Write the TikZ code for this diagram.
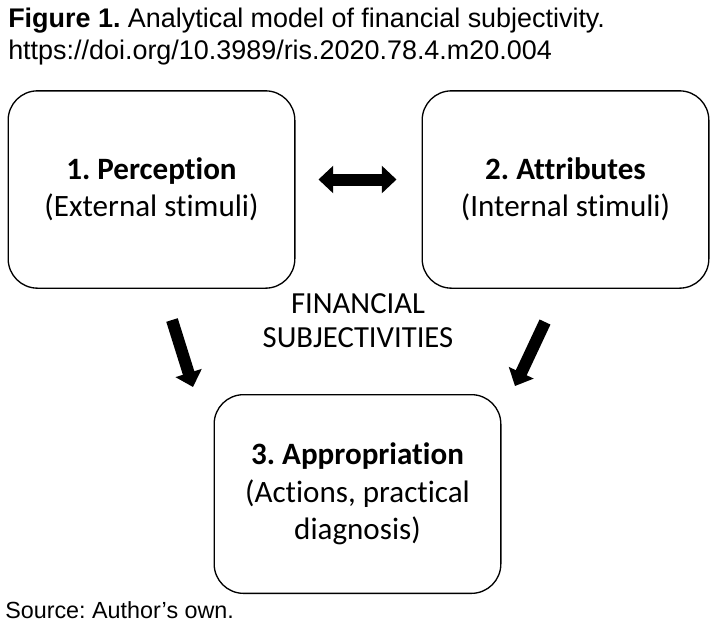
\documentclass[tikz,border=0pt]{standalone}
\usepackage{fontspec}
\setmainfont{Carlito}[Ligatures=NoCommon]
\newfontfamily\arialfont{Liberation Sans}
\usetikzlibrary{arrows.meta,positioning}
\frenchspacing

\tikzset{
  box/.style={draw, line width=1pt, rounded corners=22pt, minimum width=215pt,
    minimum height=148pt, align=center, inner sep=0pt,
    font=\fontsize{23.3}{28}\selectfont,
    execute at begin node={\rule{0pt}{#1}}},
  box/.default=19pt,
  fatarrow/.style={line width=9pt, -{Triangle[length=11pt,width=20pt]}},
  dblarrow/.style={line width=9pt,
    {Triangle[length=11pt,width=20pt]}-{Triangle[length=11pt,width=20pt]}},
  capt/.style={inner sep=0pt, align=left, font=\arialfont\fontsize{20.2}{23.5}\selectfont},
}

\begin{document}
\begin{tikzpicture}[x=0.75pt, y=-0.75pt]
\useasboundingbox (0,0) rectangle (716,626);
% caption
\node[capt, anchor=north west] (cap) at (8,8)
  {\textbf{Figure 1.} Analytical model of financial subjectivity.\\
   https://doi.org/10.3989/ris.2020.78.4.m20.004};
% boxes
\node[box] (per) at (151.5,189.5) {\textbf{1. Perception}\\(External stimuli)};
\node[box] (att) at (565.5,189.5) {\textbf{2. Attributes}\\(Internal stimuli)};
\node[box=25pt, minimum height=149pt] (app) at (357.5,494)
  {\textbf{3. Appropriation}\\(Actions, practical\\diagnosis)};
\node[inner sep=0pt, anchor=north, align=center, font=\fontsize{23}{25.5}\selectfont]
  (fin) at (358,293) {FINANCIAL\\SUBJECTIVITIES};
\node[inner sep=0pt, anchor=base west, font=\arialfont\fontsize{17.5}{20}\selectfont]
  (src) at (5,618) {Source: Author’s own.};
% arrows
\path ([yshift=7.5pt]per.east) ++(23,0) coordinate (d1)
  ([yshift=7.5pt]att.west) ++(-25,0) coordinate (d2);
\draw[dblarrow] (d1) -- (d2);
\coordinate (l1) at (172,320);
\coordinate (l2) at (193,387);
\coordinate (r1) at (545,322);
\coordinate (r2) at (515,386);
\draw[fatarrow] (l1) -- (l2);
\draw[fatarrow] (r1) -- (r2);
\end{tikzpicture}
\end{document}
